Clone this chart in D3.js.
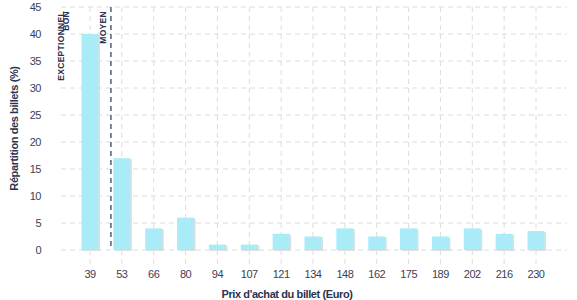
<!DOCTYPE html>
<html>
<head>
<meta charset="utf-8">
<script src="https://cdn.jsdelivr.net/npm/d3@7"></script>
<style>
  body { margin: 0; background: #fff; }
  text { font-family: "Liberation Sans", Arial, sans-serif; }
</style>
</head>
<body>
<div id="chart-area"></div>
<script>
// categories (ticket price in euro) and share of tickets (%)
const prices = ["39", "53", "66", "80", "94", "107", "121", "134", "148", "162", "175", "189", "202", "216", "230"];
const shares = [40, 17, 4, 6, 1, 1, 3, 2.5, 4, 2.5, 4, 2.5, 4, 3, 3.5];
const yTicks = [0, 5, 10, 15, 20, 25, 30, 35, 40, 45];
// average price marker (euro) and zone labels
const averagePrice = 48.2;
const zoneLabels = ["EXCEPTIONNEL", "BON"];
const averageLabel = "MOYEN";

const width = 577, height = 300;
const plot = { left: 61, right: 567, top: 7, bottom: 250 };

const svg = d3.select("#chart-area")
  .append("svg")
    .attr("width", width)
    .attr("height", height);

const data = prices.map((p, i) => ({ price: p, share: shares[i] }));

// X scale (categories)
const x = d3.scalePoint()
  .domain(prices)
  .range([90, 536]);

// linear price scale between the category positions, for the average line
const xPrice = d3.scaleLinear()
  .domain([+prices[0], +prices[1]])
  .range([x(prices[0]), x(prices[1])]);

// Y scale
const y = d3.scaleLinear()
  .domain([0, 45])
  .range([plot.bottom, plot.top]);

const gridColor = "#dcdcdc";
const textColor = "#3b4158";

// horizontal grid
svg.append("g")
  .selectAll("line")
  .data(yTicks)
  .enter()
  .append("line")
    .attr("x1", plot.left)
    .attr("x2", plot.right)
    .attr("y1", d => y(d))
    .attr("y2", d => y(d))
    .attr("stroke", gridColor)
    .attr("stroke-dasharray", "5,4");

// vertical grid
svg.append("g")
  .selectAll("line")
  .data(prices)
  .enter()
  .append("line")
    .attr("x1", d => x(d))
    .attr("x2", d => x(d))
    .attr("y1", plot.top)
    .attr("y2", plot.bottom + 15)
    .attr("stroke", gridColor)
    .attr("stroke-dasharray", "5,4");

// Y tick labels
svg.append("g")
  .selectAll("text")
  .data(yTicks)
  .enter()
  .append("text")
    .attr("x", 41)
    .attr("y", d => y(d) + 4)
    .attr("text-anchor", "end")
    .attr("font-size", "11px")
    .attr("letter-spacing", "-0.5px")
    .attr("fill", textColor)
    .text(d => d);

// X tick labels
svg.append("g")
  .selectAll("text")
  .data(prices)
  .enter()
  .append("text")
    .attr("x", d => x(d))
    .attr("y", 278)
    .attr("text-anchor", "middle")
    .attr("font-size", "11px")
    .attr("letter-spacing", "-0.5px")
    .attr("fill", textColor)
    .text(d => d);

// bars with a light shadow
const barW = 17;
const bars = svg.append("g");
bars.selectAll("rect.shadow")
  .data(data)
  .enter()
  .append("rect")
    .attr("class", "shadow")
    .attr("x", d => x(d.price) - barW / 2 + 1.5)
    .attr("y", d => y(d.share) + 1)
    .attr("width", barW)
    .attr("height", d => y(0) - y(d.share))
    .attr("fill", "#dedede");
bars.selectAll("rect.bar")
  .data(data)
  .enter()
  .append("rect")
    .attr("class", "bar")
    .attr("x", d => x(d.price) - barW / 2)
    .attr("y", d => y(d.share))
    .attr("width", barW)
    .attr("height", d => y(0) - y(d.share))
    .attr("fill", "#a9ecf7");

// average line
const avgX = xPrice(averagePrice);
svg.append("line")
  .attr("x1", avgX)
  .attr("x2", avgX)
  .attr("y1", plot.top)
  .attr("y2", plot.bottom)
  .attr("stroke", "#2b3350")
  .attr("stroke-width", 1.2)
  .attr("stroke-dasharray", "5,4");

// zone labels
function zoneLabel(text, bx){
  svg.append("text")
    .attr("transform", "translate(" + bx + "," + 11 + ") rotate(-90)")
    .attr("text-anchor", "end")
    .attr("font-size", "8.5px")
    .attr("font-weight", "bold")
    .attr("letter-spacing", "0.3px")
    .attr("fill", "#2b3350")
    .text(text);
}
zoneLabel(zoneLabels[0], plot.left + 2.5);
zoneLabel(zoneLabels[1], plot.left + 8);
zoneLabel(averageLabel, avgX - 5);

// Y Label
svg.append("text")
  .attr("transform", "translate(18," + ((plot.top + plot.bottom) / 2) + ") rotate(-90)")
  .attr("text-anchor", "middle")
  .attr("font-size", "11px")
  .attr("font-weight", "bold")
  .attr("letter-spacing", "-0.4px")
  .attr("fill", "#2b3350")
  .text("Répartition des billets (%)");

// X Label
svg.append("text")
  .attr("x", 287)
  .attr("y", 298)
  .attr("text-anchor", "middle")
  .attr("font-size", "11px")
  .attr("font-weight", "bold")
  .attr("letter-spacing", "-0.4px")
  .attr("fill", "#2b3350")
  .text("Prix d'achat du billet (Euro)");
</script>
</body>
</html>
